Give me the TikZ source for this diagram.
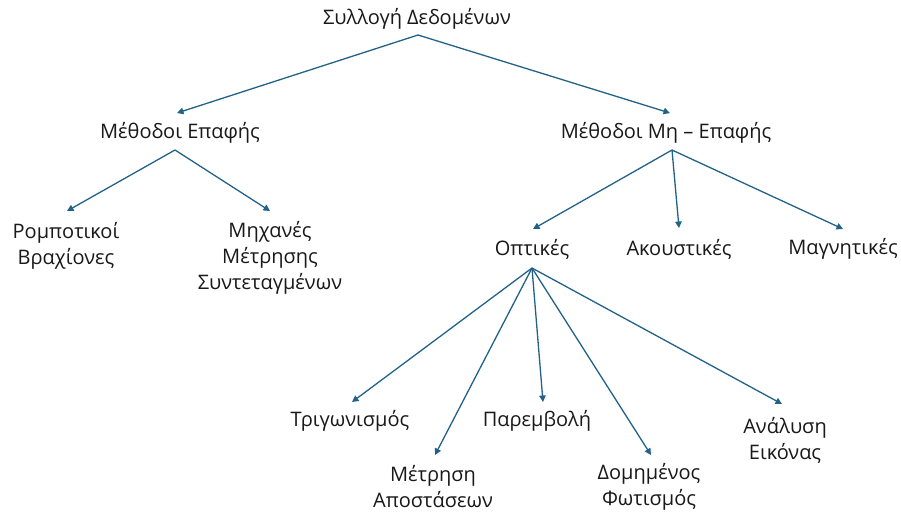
\documentclass[tikz,border=0pt]{standalone}
\usepackage{fontspec}
\setmainfont{Open Sans}
\usetikzlibrary{arrows.meta,calc}
\definecolor{arrowblue}{RGB}{34,98,136}
\definecolor{txt}{RGB}{25,25,25}
\tikzset{
  lbl/.style={text=txt,font=\fontsize{20}{26}\selectfont,align=center,inner sep=2pt},
  arr/.style={draw=arrowblue,line width=1.3pt,-{Triangle[width=6.5pt,length=6.5pt]}}
}
\begin{document}
\begin{tikzpicture}[x=1pt,y=-1pt]
\useasboundingbox (0,0) rectangle (901,512);
\fill[white] (0,0) rectangle (901,512);
\node[lbl] (root) at (417,19) {Συλλογή Δεδομένων};
\node[lbl] (contact) at (180,133) {Μέθοδοι Επαφής};
\node[lbl] (noncontact) at (666,133) {Μέθοδοι Μη – Επαφής};
\node[lbl] (robot) at (66,245.5) {Ρομποτικοί\\Βραχίονες};
\node[lbl] (cmm) at (270,258) {Μηχανές\\Μέτρησης\\Συντεταγμένων};
\node[lbl] (optical) at (532,249) {Οπτικές};
\node[lbl] (acoustic) at (679,249) {Ακουστικές};
\node[lbl] (magnetic) at (843,249) {Μαγνητικές};
\node[lbl] (triang) at (350,421) {Τριγωνισμός};
\node[lbl] (interf) at (537,421) {Παρεμβολή};
\node[lbl] (range) at (433,487) {Μέτρηση\\Αποστάσεων};
\node[lbl] (struct) at (649,487) {Δομημένος\\Φωτισμός};
\node[lbl] (image) at (785,440) {Ανάλυση\\Εικόνας};

\draw[arr] ($(root)+(1,16)$) -- ($(contact)+(-3,-20)$);
\draw[arr] ($(root)+(1,16)$) -- ($(noncontact)+(4,-20)$);
\draw[arr] ($(contact)+(-5,17)$) -- ($(robot)+(1,-34.5)$);
\draw[arr] ($(contact)+(-5,17)$) -- ($(cmm)+(0,-47)$);
\draw[arr] ($(noncontact)+(6,17)$) -- ($(optical)+(1,-20)$);
\draw[arr] ($(noncontact)+(6,17)$) -- ($(acoustic)+(0,-21)$);
\draw[arr] ($(noncontact)+(6,17)$) -- ($(magnetic)+(0,-20)$);
\draw[arr] ($(optical)+(0,19)$) -- ($(triang)+(2,-19)$);
\draw[arr] ($(optical)+(0,19)$) -- ($(range)+(2,-32)$);
\draw[arr] ($(optical)+(0,19)$) -- ($(interf)+(6,-19)$);
\draw[arr] ($(optical)+(0,19)$) -- ($(struct)+(2,-32)$);
\draw[arr] ($(optical)+(0,19)$) -- ($(image)+(-3,-36)$);
\end{tikzpicture}
\end{document}
